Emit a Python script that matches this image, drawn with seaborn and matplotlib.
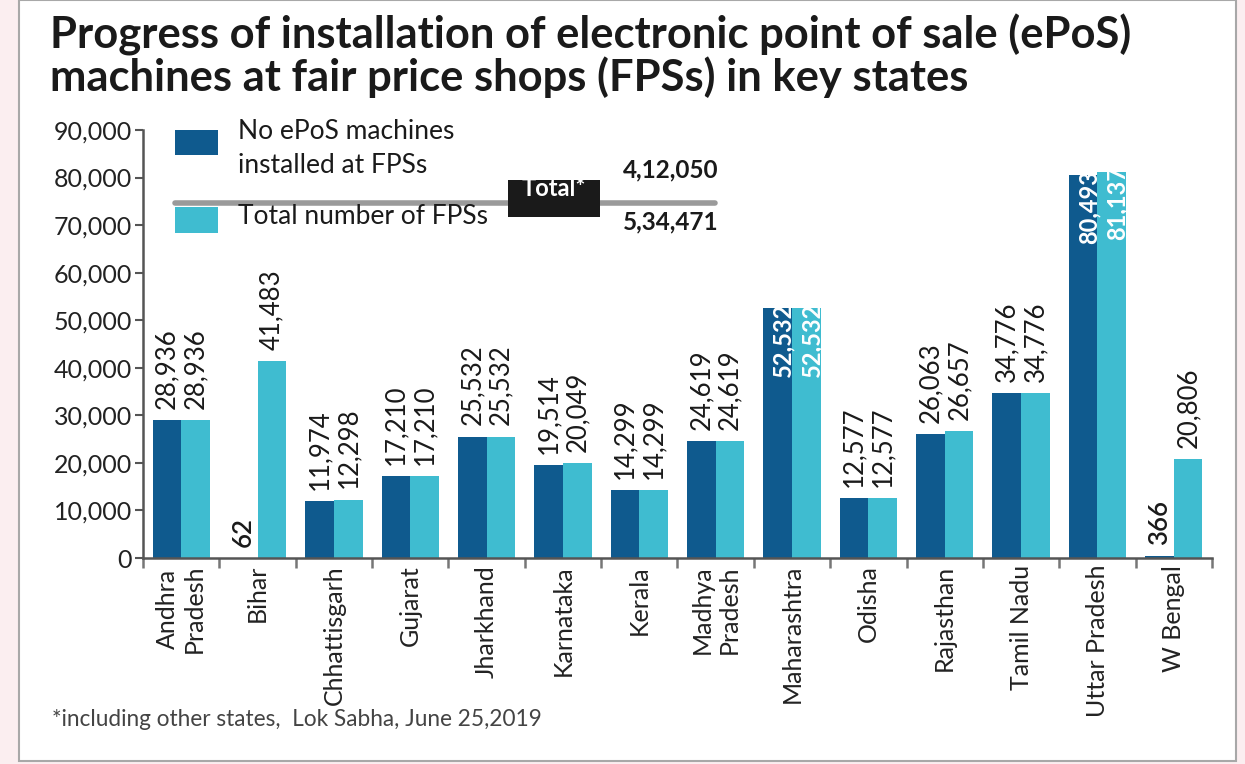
import matplotlib
matplotlib.use("Agg")
import matplotlib.pyplot as plt
from matplotlib.patches import Rectangle
from matplotlib.lines import Line2D
import seaborn as sns
import pandas as pd
import numpy as np

states = ["Andhra\nPradesh", "Bihar", "Chhattisgarh", "Gujarat", "Jharkhand", "Karnataka",
          "Kerala", "Madhya\nPradesh", "Maharashtra", "Odisha", "Rajasthan", "Tamil Nadu",
          "Uttar Pradesh", "W Bengal"]
no_epos = [28936, 62, 11974, 17210, 25532, 19514, 14299, 24619, 52532, 12577, 26063, 34776, 80493, 366]
total_fps = [28936, 41483, 12298, 17210, 25532, 20049, 14299, 24619, 52532, 12577, 26657, 34776, 81137, 20806]
series_names = ["No ePoS machines\ninstalled at FPSs", "Total number of FPSs"]
inside_states = ["Maharashtra", "Uttar Pradesh"]
total_no_epos = "4,12,050"
total_all = "5,34,471"
y_ticks = list(range(0, 90001, 10000))

DARK = "#0f5a8e"
CYAN = "#3fbcd0"

df = pd.DataFrame({
    "state": states * 2,
    "value": no_epos + total_fps,
    "series": [series_names[0]] * len(states) + [series_names[1]] * len(states),
})

sns.set_theme(style="white")
plt.rcParams["font.family"] = ["Lato", "DejaVu Sans"]

W, H = 1245, 764
fig = plt.figure(figsize=(W / 100, H / 100), dpi=100)
fig.patch.set_facecolor("#fbeef0")

def fx(x):
    return x / W

def fy(y):
    return 1 - y / H

fig.patches.append(Rectangle((fx(19), fy(761)), fx(1236) - fx(19), fy(0) - fy(761),
                             transform=fig.transFigure, facecolor="white",
                             edgecolor="#a8a8a8", lw=1.5, zorder=-10))

ax = fig.add_axes([fx(143), fy(558), fx(1212) - fx(143), fy(130) - fy(558)])
ax.set_facecolor("none")
sns.barplot(data=df, x="state", y="value", hue="series", palette=[DARK, CYAN],
            width=0.75, gap=0, saturation=1, legend=False, ax=ax, order=states,
            hue_order=series_names, edgecolor="none", linewidth=0)

ax.set_xlim(-0.5, len(states) - 0.5)
ax.set_ylim(0, 90000)
ax.set_xlabel("")
ax.set_ylabel("")
for s in ["top", "right"]:
    ax.spines[s].set_visible(False)
for s in ["left", "bottom"]:
    ax.spines[s].set_color("#555555")
    ax.spines[s].set_linewidth(1.8)

ax.set_yticks(y_ticks)
ax.set_yticklabels([f"{v:,}" for v in y_ticks])
ax.tick_params(axis="y", left=True, length=6, width=1.5, color="#555555",
               labelsize=18, labelcolor="#222222", pad=2)
ax.set_xticks(range(len(states)))
ax.set_xticklabels(states, rotation=90, ha="center", va="top", multialignment="center")
ax.tick_params(axis="x", which="major", length=0, labelsize=18, labelcolor="#222222", pad=5)
ax.set_xticks(np.arange(-0.5, len(states), 1.0), minor=True)
ax.tick_params(axis="x", which="minor", bottom=True, length=7, width=1.8,
               color="#777777", direction="out")

for ci, cont in enumerate(ax.containers):
    for si, patch in enumerate(cont.patches):
        h = patch.get_height()
        xc = patch.get_x() + patch.get_width() / 2
        label = f"{int(round(h)):,}"
        if states[si] in inside_states:
            ax.annotate(label, (xc, h), xytext=(4, 4), textcoords="offset points",
                        rotation=90, ha="center", va="top", fontsize=17,
                        fontweight="bold", color="white")
        else:
            weight = "semibold" if h < 1000 else "normal"
            ax.annotate(label, (xc, h), xytext=(0, 8), textcoords="offset points",
                        rotation=90, ha="center", va="bottom", fontsize=18.5,
                        fontweight=weight, color="#1a1a1a")

# Title
fig.text(fx(50), fy(48), "Progress of installation of electronic point of sale (ePoS)",
         fontsize=31.3, fontweight="bold", color="#1a1a1a", va="baseline", ha="left")
fig.text(fx(50), fy(91), "machines at fair price shops (FPSs) in key states",
         fontsize=31.3, fontweight="bold", color="#1a1a1a", va="baseline", ha="left")

# Legend block
fig.add_artist(Line2D([fx(175), fx(715)], [fy(203), fy(203)], transform=fig.transFigure,
                      color="#9a9a9a", lw=4, zorder=1))
fig.patches.append(Rectangle((fx(175), fy(155)), fx(218) - fx(175), fy(130) - fy(155),
                             transform=fig.transFigure, facecolor=DARK, edgecolor="none", zorder=2))
fig.patches.append(Rectangle((fx(175), fy(233)), fx(218) - fx(175), fy(207) - fy(233),
                             transform=fig.transFigure, facecolor=CYAN, edgecolor="none", zorder=2))
fig.text(fx(238), fy(119), series_names[0], fontsize=19, color="#1a1a1a", va="top",
         ha="left", linespacing=1.45, zorder=3)
fig.text(fx(238), fy(216), series_names[1], fontsize=19, color="#1a1a1a", va="center",
         ha="left", zorder=3)
fig.patches.append(Rectangle((fx(508), fy(217)), fx(600) - fx(508), fy(180) - fy(217),
                             transform=fig.transFigure, facecolor="#1a1a1a", edgecolor="none", zorder=4))
fig.text(fx(554), fy(189), "Total*", fontsize=17, fontweight="bold", color="white",
         ha="center", va="center", zorder=5)
fig.text(fx(623), fy(170), total_no_epos, fontsize=17.5, fontweight="bold", color="#1a1a1a",
         ha="left", va="center", zorder=5)
fig.text(fx(623), fy(222), total_all, fontsize=17.5, fontweight="bold", color="#1a1a1a",
         ha="left", va="center", zorder=5)

# Footnote
fig.text(fx(52), fy(726), "*including other states,  Lok Sabha, June 25,2019", fontsize=16.3,
         color="#444444", ha="left", va="baseline")

fig.savefig("out.png", dpi=100, facecolor=fig.get_facecolor())
